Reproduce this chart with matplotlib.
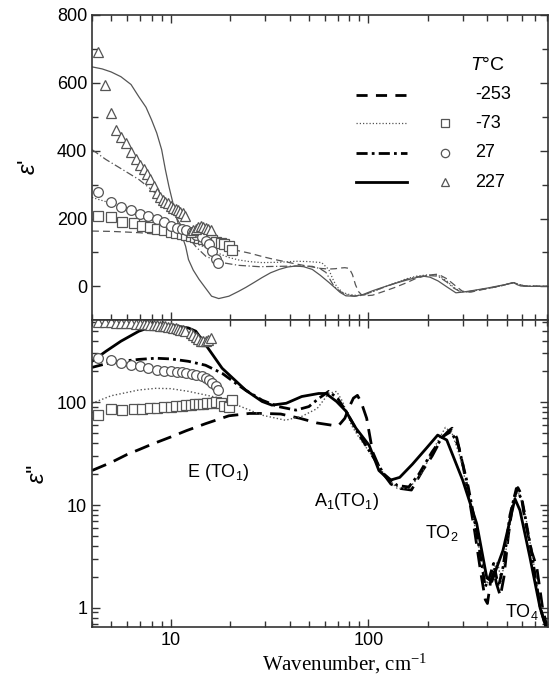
import numpy as np
import matplotlib.pyplot as plt
from matplotlib.ticker import MultipleLocator, LogLocator, NullFormatter

plt.rcParams['font.family'] = 'Liberation Sans'
plt.rcParams['mathtext.fontset'] = 'custom'
plt.rcParams['mathtext.rm'] = 'Liberation Sans'
plt.rcParams['mathtext.it'] = 'Liberation Sans:italic'
plt.rcParams['mathtext.sf'] = 'Liberation Serif'

# ---- top panel: eps' fits (wavenumber cm-1, value) ----
w_re_m253 = [4, 5, 6, 7, 8, 9, 10, 12.3, 14, 16, 18, 19.7, 22, 25, 29, 33, 37, 43, 50, 57, 63,
             68, 72, 76, 80, 83, 86, 89, 92, 96, 105, 118, 135, 155, 175, 200, 225, 250, 275,
             300, 330, 366, 420, 480, 520, 545, 570, 620, 800]
e_re_m253 = [163, 162, 160, 158, 155, 152, 148, 140, 134, 127, 120, 113, 105, 98, 88, 80, 74, 66,
             59, 53, 51, 52, 54, 55, 53, 35, 5, -15, -24, -28, -26, -16, -4, 10, 24, 33, 36, 22, 2,
             -15, -17, -11, -4, 3, 9, 11, 6, 1, 0]

w_re_m73 = [4, 5, 6, 7, 8, 9, 10, 11, 12.3, 14, 16, 18, 19.7, 22, 25, 29, 35, 43, 50, 58, 63, 66,
            69, 74, 80, 88, 96, 105, 118, 135, 155, 175, 200, 225, 250, 270, 290, 320, 366, 420,
            480, 520, 545, 570, 620, 800]
e_re_m73 = [262, 245, 228, 212, 196, 180, 166, 153, 138, 122, 107, 94, 85, 78, 73, 70, 71, 74, 73,
            70, 50, 22, 0, -18, -24, -27, -25, -16, -4, 9, 22, 30, 34, 33, 15, -3, -14, -16, -10,
            -4, 3, 9, 11, 6, 1, 0]

w_re_27 = [4, 4.7, 5.5, 6.9, 8, 9, 10.1, 11, 12.3, 13.5, 15.1, 18.2, 22, 28, 35, 45, 52, 57, 61,
           64, 67, 72, 77, 85, 94, 105, 118, 135, 155, 175, 200, 225, 250, 270, 290, 320, 366,
           420, 480, 520, 545, 570, 620, 800]
e_re_27 = [403, 374, 350, 315, 285, 258, 226, 190, 144, 115, 88, 70, 62, 58, 59, 60, 59, 52, 41,
           20, 0, -15, -24, -29, -26, -15, -4, 8, 20, 28, 32, 30, 12, -5, -15, -16, -10, -4, 3,
           9, 11, 6, 1, 0]

w_re_227 = [4.0, 4.5, 5.0, 5.6, 6.3, 6.9, 7.5, 8.0, 8.5, 9.0, 9.4, 9.8, 10.4, 11.0, 11.9, 12.3,
            13.0, 13.9, 15.0, 16.1, 17.5, 19.7, 22, 24, 26.5, 29, 32, 35.4, 39, 43, 47, 52, 57,
            63, 68, 72, 77, 85, 94, 105, 118, 135, 155, 175, 190, 205, 225, 250, 277, 300, 340,
            400, 470, 520, 543, 565, 590, 660, 800]
e_re_227 = [647, 641, 632, 618, 595, 559, 528, 491, 452, 403, 344, 294, 232, 176, 118, 79, 48,
            21, -5, -29, -36, -29, -15, -3, 12, 26, 40, 50, 57, 60, 58, 50, 33, 12, -5, -18, -28,
            -29, -24, -13, -3, 8, 18, 26, 30, 27, 16, -2, -19, -17, -12, -5, 3, 8, 11, 5, 1, 0, 0]

# ---- measured points (eps' top, eps'' bottom) ----
w_sq = [4.3, 5.0, 5.7, 6.5, 7.2, 7.9, 8.5, 9.2, 10.0, 10.6, 11.4, 11.9, 12.6, 13.2, 13.9, 14.5,
        15.2, 16.1, 16.9, 17.9, 18.6, 19.7, 20.4]
re_sq = [206, 203, 190, 188, 177, 174, 168, 165, 160, 157, 153, 150, 147, 146, 143, 140, 138,
         136, 132, 128, 124, 118, 108]
im_sq = [75, 87, 84, 86, 87, 89, 89, 91, 91, 92, 93, 94, 94, 96, 96, 97, 98, 98, 100, 98, 93,
         91, 105]

w_ci = [4.3, 5.0, 5.6, 6.3, 7.0, 7.7, 8.5, 9.2, 10.0, 10.7, 11.4, 12.0, 12.8, 13.5, 14.4, 15.0,
        15.6, 16.1, 16.9, 17.3]
re_ci = [279, 250, 235, 225, 214, 207, 199, 190, 177, 172, 169, 165, 160, 152, 145, 135, 124,
         103, 80, 68]
im_ci = [268, 257, 240, 230, 224, 215, 205, 200, 200, 196, 196, 192, 188, 183, 179, 171, 164,
         153, 143, 131]

w_tr = [4.3, 4.65, 5.0, 5.3, 5.6, 5.95, 6.3, 6.65, 7.0, 7.3, 7.6, 7.9, 8.2, 8.5, 8.8, 9.1, 9.4,
        9.7, 10.0, 10.3, 10.6, 10.9, 11.2, 11.5, 11.8,
        12.6, 13.0, 13.4, 13.8, 14.2, 14.6, 15.0, 15.5, 16.0]
re_tr = [691, 594, 512, 462, 441, 423, 397, 376, 357, 345, 330, 315, 295, 276, 264, 256, 250,
         245, 238, 232, 228, 224, 220, 215, 206,
         160, 165, 170, 174, 177, 176, 172, 168, 165]
im_tr = [610, 605, 600, 598, 595, 592, 590, 586, 582, 578, 574, 570, 566, 562, 558, 554, 550,
         545, 540, 535, 528, 520, 512, 503, 490,
         470, 450, 430, 410, 400, 395, 398, 405, 420]

# ---- bottom panel: eps'' fits ----
w_im_m253 = [4, 5, 6, 7, 8, 10, 12, 15, 19.7, 25, 30, 36, 45, 55, 65, 71, 76, 80, 84, 88, 92,
             98, 105, 115, 130, 145, 165, 188, 210, 235, 255, 265, 280, 300, 320, 345, 370,
             390, 400, 415, 430, 445, 465, 485, 510, 540, 570, 590, 620, 670, 710, 760, 800]
e_im_m253 = [21.7, 26, 31, 35, 39, 46, 53, 62, 74, 78, 78, 77, 70, 63, 60, 60, 70, 90, 110, 117,
             100, 70, 33, 22, 16, 14.5, 14, 21.7, 30, 45, 53, 56, 45, 25, 13, 5.5, 2.2, 1.2,
             1.1, 1.8, 2.3, 1.7, 1.3, 2.0, 5, 11, 14.8, 13, 7, 3.5, 2.5, 1.0, 0.65]

w_im_m73 = [4, 5, 6.9, 8.4, 10, 12.3, 15, 18.2, 22, 24, 29, 38, 46, 55, 63, 69, 74, 82, 90, 101,
            120, 140, 160, 185, 215, 245, 265, 290, 330, 370, 400, 420, 450, 470, 500, 540,
            570, 610, 670, 740, 800]
e_im_m73 = [98, 116, 132, 137, 136, 128, 118, 109, 93, 87, 75, 67, 73, 87, 122, 128, 102, 60,
            45, 33, 20, 14.5, 14.5, 20, 36, 57, 50, 30, 10, 3, 1.7, 2.2, 2.8, 1.8, 4, 10, 13.5,
            10, 3.5, 1.1, 0.6]

w_im_27 = [4, 5, 6.9, 8.4, 10, 12.3, 15, 18.2, 22, 24, 29, 35, 43, 50, 56, 63, 70, 77, 90, 105,
           120, 140, 160, 180, 210, 240, 262, 285, 320, 350, 390, 410, 430, 455, 480, 520, 560,
           600, 660, 740, 800]
e_im_27 = [219, 245, 262, 269, 265, 251, 230, 192, 147, 131, 105, 91, 84, 91, 109, 128, 109, 82,
           48, 30, 20, 15.5, 15, 20, 33, 47, 52, 38, 15, 6, 1.6, 2.0, 2.7, 1.6, 2.5, 8, 14.5,
           11, 4, 1.0, 0.6]

w_im_227 = [4, 4.7, 5.6, 6.9, 8.4, 10.1, 12.3, 13.4, 15.1, 18.2, 22, 24, 29, 32.5, 38.4, 46, 56,
            61, 69, 77, 86.5, 101, 113, 128, 144, 167, 197, 224, 249, 300, 353, 397, 421, 447,
            479, 520, 551, 584, 656, 738, 800]
e_im_227 = [251, 314, 394, 493, 564, 564, 530, 493, 359, 215, 153, 131, 102, 94, 98, 114, 122,
            122, 102, 82, 56, 38, 21.7, 17.4, 18.6, 25, 36, 48, 43, 17.4, 6.6, 1.96, 1.8, 2.5,
            3.6, 7.1, 11.5, 8.9, 3.1, 1.0, 0.6]

legend_labels = ['-253', '-73', '27', '227']

gray = '#555555'
fig = plt.figure(figsize=(5.51, 6.80), dpi=100)
ax1 = fig.add_axes([0.167, 0.529, 0.8276, 0.449])
ax2 = fig.add_axes([0.167, 0.078, 0.8276, 0.451], sharex=ax1)

# top panel
ax1.plot(w_re_m253, e_re_m253, color=gray, lw=0.9, dashes=(5.5, 3.3))
ax1.plot(w_re_m73, e_re_m73, color=gray, lw=0.9, dashes=(1, 1.6))
ax1.plot(w_re_27, e_re_27, color=gray, lw=0.9, dashes=(6, 2, 1, 2))
ax1.plot(w_re_227, e_re_227, color=gray, lw=0.9)
mk = dict(ls='none', mfc='white', mec=gray, mew=0.9, ms=7)
ax1.plot(w_sq, re_sq, marker='s', **mk)
ax1.plot(w_ci, re_ci, marker='o', **mk)
ax1.plot(w_tr, re_tr, marker='^', **mk)

# bottom panel
ax2.plot(w_im_m253, e_im_m253, color='black', lw=2, dashes=(5.5, 3))
ax2.plot(w_im_m73, e_im_m73, color=gray, lw=1.0, dashes=(1, 1.6))
ax2.plot(w_im_27, e_im_27, color='black', lw=2, dashes=(4, 1.5, 1, 1.5))
ax2.plot(w_im_227, e_im_227, color='black', lw=2)
ax2.plot(w_sq, im_sq, marker='s', **mk)
ax2.plot(w_ci, im_ci, marker='o', **mk)
ax2.plot(w_tr, im_tr, marker='^', **mk)

ax2.set_xscale('log')
ax2.set_yscale('log')
ax1.set_xlim(4, 810)
ax1.set_ylim(-100, 800)
ax2.set_ylim(0.65, 630)

ax1.yaxis.set_major_locator(MultipleLocator(200))
ax1.yaxis.set_minor_locator(MultipleLocator(100))
ax2.set_xticks([10, 100])
ax2.set_xticklabels(['10', '100'])
ax2.xaxis.set_minor_locator(LogLocator(base=10, subs=np.arange(2, 10)))
ax2.xaxis.set_minor_formatter(NullFormatter())
ax2.set_yticks([1, 10, 100])
ax2.set_yticklabels(['1', '10', '100'])
ax2.yaxis.set_minor_locator(LogLocator(base=10, subs=np.arange(2, 10)))
ax2.yaxis.set_minor_formatter(NullFormatter())

for ax in (ax1, ax2):
    ax.tick_params(which='both', direction='in', top=True, right=True, labelsize=13,
                   color='#333333', width=1.0)
    ax.tick_params(which='major', length=6)
    ax.tick_params(which='minor', length=4)
    for s in ax.spines.values():
        s.set_linewidth(1.2)
        s.set_color('#333333')
ax1.tick_params(labelbottom=False)

ax1.set_ylabel("$\\it{\u03b5}$'", fontsize=17, labelpad=12)
ax2.set_ylabel("$\\it{\u03b5}$''", fontsize=17, labelpad=6)
ax2.set_xlabel('Wavenumber, cm$^{\\mathsf{-1}}$', family='Liberation Serif', fontsize=15)
ax2.xaxis.set_label_coords(0.555, -0.078)

# annotations
ax2.text(17.5, 20.7, 'E (TO$_1$)', fontsize=13, ha='center', va='center')
ax2.text(78, 10.8, 'A$_1$(TO$_1$)', fontsize=13, ha='center', va='center')
ax2.text(236, 5.4, 'TO$_2$', fontsize=13, ha='center', va='center')
ax2.text(600, 0.9, 'TO$_4$', fontsize=13, ha='center', va='center')

# legend drawn by hand
tr = ax1.transAxes
ax1.text(0.829, 0.836, '$T$\u00b0C', transform=tr, fontsize=14, va='center', ha='left')
leg_y = [0.738, 0.646, 0.548, 0.452]
leg_styles = [dict(color='black', lw=2, dashes=(4, 3)),
              dict(color=gray, lw=0.9, dashes=(1, 1.6)),
              dict(color='black', lw=2, dashes=(4, 1.5, 1, 1.5)),
              dict(color='black', lw=2)]
leg_markers = [None, 's', 'o', '^']
for y, st, m, lab in zip(leg_y, leg_styles, leg_markers, legend_labels):
    ax1.plot([0.579, 0.691], [y, y], transform=tr, **st)
    if m:
        ax1.plot([0.774], [y], transform=tr, marker=m, ls='none', mfc='white', mec=gray,
                 mew=0.9, ms=6)
    ax1.text(0.84, y, lab, transform=tr, fontsize=13, va='center', ha='left')

fig.savefig('out.png', dpi=100)
